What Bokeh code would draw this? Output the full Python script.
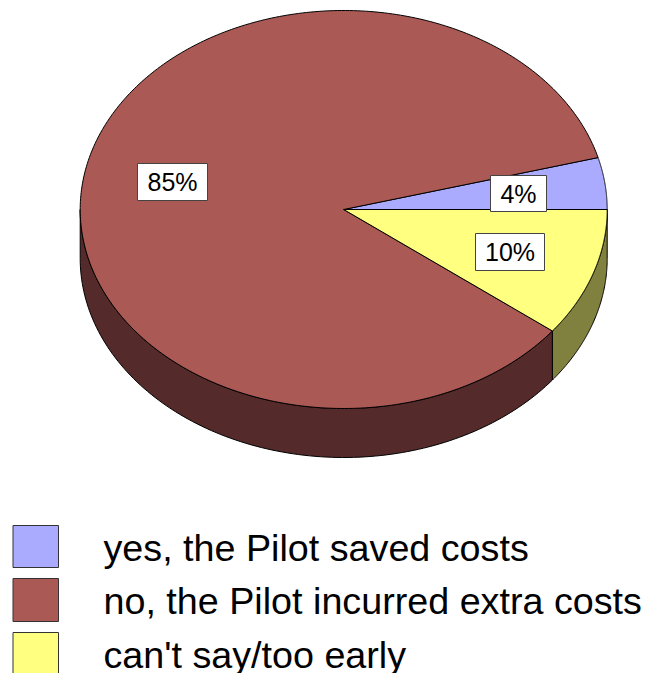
import numpy as np
from bokeh.core.properties import value
from bokeh.embed import file_html
from bokeh.models import ColumnDataSource, Range1d
from bokeh.plotting import figure
from bokeh.resources import INLINE

# Survey shares in percent; the slice tags print them rounded
categories = ["yes, the Pilot saved costs", "no, the Pilot incurred extra costs", "can't say/too early"]
shares = [4.2, 85.35, 10.45]
top_colors = ["#AAAAFF", "#AA5955", "#FFFF80"]
side_colors = ["#55557F", "#552A2A", "#80803F"]

# Pie geometry on a pixel-sized canvas
CX, CY, RX, RY, DEPTH = 343.2, 209.0, 263.5, 199.0, 49.0
FONT = value("Liberation Sans")

p = figure(width=646, height=673, output_backend="svg", toolbar_location=None,
           x_range=Range1d(0, 646), y_range=Range1d(673, 0), min_border=0,
           background_fill_color="white", border_fill_color="white", outline_line_color=None)
p.axis.visible = False
p.grid.visible = False


def rim(a0, a1, drop=0.0, n=120):
    t = np.radians(np.linspace(a0, a1, n))
    return CX + RX * np.cos(t), CY + RY * np.sin(t) + drop


# Slice spans in degrees, clockwise on screen: the first slice rises above
# the horizontal, the last one sits just below it
sweeps = np.array(shares) / sum(shares) * 360.0
spans = [(-sweeps[0], 0.0), (sweeps[2], 360.0 - sweeps[0]), (0.0, sweeps[2])]

# Rim wall of the lower half
for (a0, a1), color in zip(spans, side_colors):
    lo, hi = max(a0, 0.0), min(a1, 180.0)
    if hi <= lo:
        continue
    x0, y0 = rim(lo, hi)
    x1, y1 = rim(hi, lo, DEPTH)
    p.patch(np.r_[x0, x1], np.r_[y0, y1], fill_color=color, line_color="#000000",
            line_width=1, line_join="round")

# Top faces
for (a0, a1), color in zip(spans, top_colors):
    x, y = rim(a0, a1, n=360)
    p.patch(np.r_[CX, x], np.r_[CY, y], fill_color=color, line_color="#000000",
            line_width=1, line_join="round")

# Percentage tags
tags = ColumnDataSource(dict(
    x=[518.0, 172.0, 509.5], y=[193.0, 181.5, 251.5],
    w=[56, 70, 69], h=[36, 37, 37], label=[f"{round(s)}%" for s in shares]))
p.rect("x", "y", "w", "h", source=tags, fill_color="white", line_color="#444444", line_width=1)
p.text("x", "y", text="label", source=tags, text_font=FONT, text_font_size="25px",
       text_align="center", text_baseline="middle", text_color="#000000")

# Legend swatches and captions
rows = ColumnDataSource(dict(
    top=[525, 578, 632], bottom=[567, 621, 675], name=categories, color=top_colors,
    tx=[103, 103, 103], ty=[547, 600, 654]))
p.quad(left=12.5, right=58, top="top", bottom="bottom", source=rows,
       fill_color="color", line_color="#333333", line_width=1)
p.text("tx", "ty", text="name", source=rows, text_font=FONT, text_font_size="37.7px",
       text_align="left", text_baseline="middle", text_color="#000000")

open("out.html", "w").write(file_html(p, INLINE))
